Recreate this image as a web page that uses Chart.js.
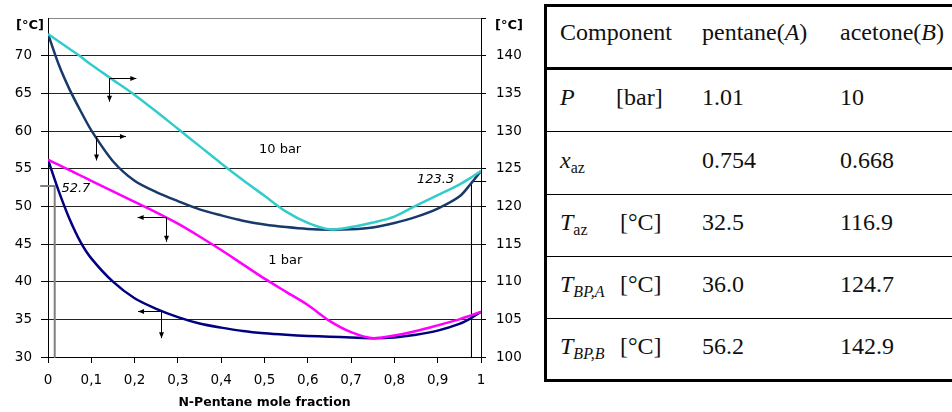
<!DOCTYPE html>
<html>
<head>
<meta charset="utf-8">
<script src="https://cdn.jsdelivr.net/npm/chart.js@4.4.0/dist/chart.umd.min.js"></script>
<style>
    html, body { margin: 0; padding: 0; background: #fff; overflow: hidden; }
    body { width: 952px; height: 412px; position: relative; }
    #graphBox { position: absolute; left: 0; top: 0; width: 530px; height: 412px; }
    .rule { position: absolute; background: #000; }
    .cell { position: absolute; font-family: "Liberation Serif", "Times New Roman", serif; font-size: 24px;
            line-height: 24px; color: #111; white-space: nowrap; }
    .cell sub { font-size: 16px; vertical-align: -5px; line-height: 0; }
</style>
</head>
<body>
<div id="graphBox"><canvas id="graphTx" width="530" height="412"></canvas></div>
<div id="table"></div>

<script>
// mole fraction of n-pentane, shared by the four curves
const molFrac = [0, 0.025, 0.05, 0.075, 0.1, 0.15, 0.2, 0.25, 0.3, 0.35, 0.4, 0.45,
                 0.5, 0.55, 0.6, 0.65, 0.7, 0.75, 0.8, 0.85, 0.9, 0.95, 0.975, 1];

// 1 bar (left axis, °C)
const liquid1 = [56.2, 52.0, 48.3, 45.3, 43.1, 40.0, 37.8, 36.4, 35.3, 34.45, 33.9, 33.45,
                 33.15, 32.95, 32.8, 32.7, 32.6, 32.5, 32.6, 32.95, 33.5, 34.4, 35.1, 36.0];
const vapour1 = [56.2, 55.5, 54.8, 54.1, 53.4, 52.0, 50.6, 49.2, 47.7, 46.0, 44.2, 42.3,
                 40.4, 38.65, 36.9, 34.8, 33.3, 32.5, 32.85, 33.45, 34.2, 35.0, 35.5, 36.0];

// 10 bar (right axis, °C)
const liquid10 = [142.9, 138.8, 135.5, 132.7, 130.1, 126.0, 123.4, 121.9, 120.7, 119.6, 118.8, 118.1,
                  117.6, 117.25, 117.0, 116.9, 116.95, 117.2, 117.8, 118.6, 119.7, 121.3, 122.9, 124.7];
const vapour10 = [142.9, 141.9, 140.9, 139.9, 138.8, 136.8, 134.8, 132.6, 130.3, 128.0, 125.7, 123.5,
                  121.4, 119.3, 117.8, 116.95, 117.25, 117.85, 118.65, 120.1, 121.5, 122.9, 123.75, 124.7];

// marker lines at 52.7 (1 bar) and 123.3 (10 bar)
const markLeftX = [-0.018, 0.0155, 0.0155];
const markLeftY = [52.7, 52.7, 30];
const markRightX = [1.012, 0.978, 0.978];
const markRightY = [123.3, 123.3, 100];

const xTickLabels = ['0', '0,1', '0,2', '0,3', '0,4', '0,5', '0,6', '0,7', '0,8', '0,9', '1'];

// arrows (left axis units): corner, end of horizontal, end of vertical
const arrowX = [0.142, 0.111, 0.2725, 0.262];
const arrowY = [67.0, 59.3, 48.6, 36.1];
const arrowToX = [0.204, 0.180, 0.207, 0.208];
const arrowToY = [63.9, 56.1, 45.3, 32.5];

// notes (left axis units)
const noteText = ['10 bar', '1 bar', '52.7', '123.3'];
const noteX = [0.536, 0.548, 0.031, 0.938];
const noteY = [57.5, 42.8, 52.4, 53.6];

// table
const headCols = ['Component', 'pentane(<i>A</i>)', 'acetone(<i>B</i>)'];
const rowNames = ['<i>P</i>', '<i>x</i><sub>az</sub>', '<i>T</i><sub>az</sub>',
                  '<i>T</i><sub><i>BP,A</i></sub>', '<i>T</i><sub><i>BP,B</i></sub>'];
const rowUnits = ['[bar]', '', '[°C]', '[°C]', '[°C]'];
const pentaneCol = ['1.01', '0.754', '32.5', '36.0', '56.2'];
const acetoneCol = ['10', '0.668', '116.9', '124.7', '142.9'];

function pts(xs, ys) {
    return xs.map(function (x, i) { return {x: x, y: ys[i]}; });
}

function buildTable() {
    const box = document.getElementById('table');
    let html = '';
    const rules = [[4, 3], [67, 3], [131, 1], [194, 1], [256, 1], [318, 1], [379, 3]];
    rules.forEach(function (r) {
        html += '<div class="rule" style="left:544px;width:408px;top:' + r[0] + 'px;height:' + r[1] + 'px"></div>';
    });
    html += '<div class="rule" style="left:544px;width:3px;top:4px;height:378px"></div>';

    html += '<div class="cell" style="left:560px;top:20px">' + headCols[0] + '</div>';
    html += '<div class="cell" style="left:702px;top:20px">' + headCols[1] + '</div>';
    html += '<div class="cell" style="left:840px;top:20px">' + headCols[2] + '</div>';

    const tops = [85, 148, 210, 272, 334];
    rowNames.forEach(function (name, i) {
        html += '<div class="cell" style="left:560px;top:' + tops[i] + 'px">' + name + '</div>';
        if (rowUnits[i]) {
            const ux = rowUnits[i] === '[bar]' ? 616 : 620;
            html += '<div class="cell" style="left:' + ux + 'px;top:' + tops[i] + 'px">' + rowUnits[i] + '</div>';
        }
        html += '<div class="cell" style="left:702px;top:' + tops[i] + 'px">' + pentaneCol[i] + '</div>';
        html += '<div class="cell" style="left:840px;top:' + tops[i] + 'px">' + acetoneCol[i] + '</div>';
    });
    box.innerHTML = html;
}

function arrowHead(ctx, x0, y0, x1, y1) {
    const a = Math.atan2(y1 - y0, x1 - x0);
    ctx.beginPath();
    ctx.moveTo(x1, y1);
    ctx.lineTo(x1 - 6 * Math.cos(a) + 2.5 * Math.sin(a), y1 - 6 * Math.sin(a) - 2.5 * Math.cos(a));
    ctx.lineTo(x1 - 6 * Math.cos(a) - 2.5 * Math.sin(a), y1 - 6 * Math.sin(a) + 2.5 * Math.cos(a));
    ctx.closePath();
    ctx.fill();
}

const notes = {
    id: 'notes',
    afterDatasetsDraw(chart) {
        const ctx = chart.ctx;
        const sx = chart.scales.x, sy = chart.scales.y, sy2 = chart.scales.y2;
        ctx.save();
        ctx.strokeStyle = '#000';
        ctx.fillStyle = '#000';
        ctx.lineWidth = 1;
        for (let i = 0; i < arrowX.length; i++) {
            const cx = Math.round(sx.getPixelForValue(arrowX[i])) + 0.5;
            const cy = Math.round(sy.getPixelForValue(arrowY[i])) + 0.5;
            const hx = sx.getPixelForValue(arrowToX[i]);
            const vy = sy.getPixelForValue(arrowToY[i]);
            ctx.beginPath();
            ctx.moveTo(hx, cy); ctx.lineTo(cx, cy); ctx.lineTo(cx, vy);
            ctx.stroke();
            arrowHead(ctx, cx, cy, hx, cy);
            arrowHead(ctx, cx, cy, cx, vy);
        }
        ctx.textBaseline = 'middle';
        const aligns = ['center', 'center', 'left', 'right'];
        for (let i = 0; i < noteText.length; i++) {
            ctx.font = (i > 1 ? 'italic ' : '') + '13px "DejaVu Sans", sans-serif';
            ctx.textAlign = aligns[i];
            ctx.fillText(noteText[i], sx.getPixelForValue(noteX[i]), sy.getPixelForValue(noteY[i]));
        }
        // unit labels at the top of both axes
        ctx.font = 'bold 13px "DejaVu Sans", sans-serif';
        const ty = sy.getPixelForValue(75) + 8;
        ctx.textAlign = 'right';
        ctx.fillText('[°C]', sy.right - 4, ty);
        ctx.textAlign = 'left';
        ctx.fillText('[°C]', sy2.left + 14, ty);
        ctx.restore();
    }
};

function graph() {
    const $grafica = document.querySelector('#graphTx');
    const tickFont = {family: '"DejaVu Sans", sans-serif', size: 13.5};

    const curve1 = {
        label: 'liquid 1 bar', data: pts(molFrac, liquid1), yAxisID: 'y',
        borderColor: '#000080', borderWidth: 2.5, order: 4
    };
    const curve1v = {
        label: 'vapour 1 bar', data: pts(molFrac, vapour1), yAxisID: 'y',
        borderColor: '#FF00FF', borderWidth: 2.5, order: 3
    };
    const curve10 = {
        label: 'liquid 10 bar', data: pts(molFrac, liquid10), yAxisID: 'y2',
        borderColor: '#173A6A', borderWidth: 2.5, order: 2
    };
    const curve10v = {
        label: 'vapour 10 bar', data: pts(molFrac, vapour10), yAxisID: 'y2',
        borderColor: '#33CCCC', borderWidth: 2.5, order: 1
    };
    const markLeft = {
        label: '52.7', data: pts(markLeftX, markLeftY), yAxisID: 'y',
        borderColor: '#808080', borderWidth: 2, tension: 0, clip: false, order: 6
    };
    const markRight = {
        label: '123.3', data: pts(markRightX, markRightY), yAxisID: 'y2',
        borderColor: '#000', borderWidth: 1, tension: 0, clip: false, order: 5
    };

    new Chart($grafica, {
        type: 'line',
        data: {datasets: [curve10v, curve10, curve1v, curve1, markRight, markLeft]},
        options: {
            responsive: false,
            animation: false,
            layout: {padding: {top: 9, bottom: 0, left: 0, right: 0}},
            plugins: {
                legend: {display: false},
                tooltip: {enabled: false}
            },
            elements: {
                point: {radius: 0},
                line: {tension: 0.3, fill: false, borderJoinStyle: 'round'}
            },
            scales: {
                x: {
                    type: 'linear', min: 0, max: 1,
                    afterFit: function (s) { s.height = 55; },
                    ticks: {
                        stepSize: 0.1, color: '#000', font: tickFont, padding: 9, maxRotation: 0,
                        callback: function (v, i) { return xTickLabels[i]; }
                    },
                    grid: {drawOnChartArea: false, tickLength: 6, tickColor: '#000'},
                    border: {color: '#000'},
                    title: {
                        display: true, text: 'N-Pentane mole fraction', color: '#000',
                        font: {family: '"DejaVu Sans", sans-serif', size: 12.5, weight: 'bold'},
                        padding: {top: 0, bottom: 2}
                    }
                },
                y: {
                    position: 'left', min: 30, max: 75,
                    afterFit: function (s) { s.width = 48; },
                    ticks: {
                        stepSize: 5, color: '#000', font: tickFont, padding: 9,
                        callback: function (v) { return v === 75 ? '' : v; }
                    },
                    grid: {
                        tickLength: 7,
                        color: function (c) { return c.tick && c.tick.value === 75 ? '#888' : '#222'; },
                        tickColor: function (c) { return c.tick && c.tick.value === 75 ? 'rgba(0,0,0,0)' : '#000'; }
                    },
                    border: {color: '#000'}
                },
                y2: {
                    position: 'right', min: 100, max: 145,
                    afterFit: function (s) { s.width = 49; },
                    ticks: {
                        stepSize: 5, color: '#000', font: tickFont, padding: 10,
                        callback: function (v) { return v === 145 ? '' : v; }
                    },
                    grid: {drawOnChartArea: false, tickLength: 5, tickColor: '#000'},
                    border: {color: '#000'}
                }
            }
        },
        plugins: [notes]
    });
}

buildTable();
graph();
</script>
</body>
</html>
